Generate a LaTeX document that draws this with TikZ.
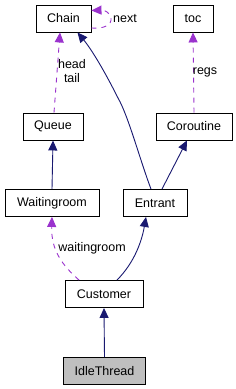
\documentclass[tikz,border=0pt]{standalone}
\usepackage{fontspec}
\setmainfont{Liberation Sans}
\usetikzlibrary{arrows.meta}
\definecolor{navy}{HTML}{191970}
\definecolor{orchid}{HTML}{9A32CD}
\begin{document}
\begin{tikzpicture}[x=1pt,y=-1pt,
  cls/.style={draw=black,line width=0.9pt,minimum height=27pt,inner sep=0pt,font=\fontsize{12.5}{14}\selectfont},
  inh/.style={draw=navy,line width=0.9pt,-{Triangle[length=10pt,width=9pt]}},
  use/.style={draw=orchid,line width=0.9pt,dash pattern=on 5pt off 5pt,-{Triangle[length=10pt,width=9pt]}},
  lbl/.style={font=\fontsize{12.5}{14}\selectfont,inner sep=0pt,align=center}]
\useasboundingbox (0,0) rectangle (236,389);
\node[cls,minimum width=55pt] (chain) at (63.5,18.5) {Chain};
\node[cls,minimum width=40pt] (toc) at (193,18.5) {toc};
\node[cls,minimum width=60pt] (queue) at (53,126.5) {Queue};
\node[cls,minimum width=76pt] (coroutine) at (194,126.5) {Coroutine};
\node[cls,minimum width=94pt] (waitingroom) at (52,203) {Waitingroom};
\node[cls,minimum width=64pt] (entrant) at (155,203) {Entrant};
\node[cls,minimum width=78pt] (customer) at (104,294) {Customer};
\node[cls,minimum width=82pt,fill={rgb,255:red,191;green,191;blue,191}] (idle) at (104.5,371) {IdleThread};
% edges
\draw[use] ([xshift=1pt]queue.north) -- ([xshift=-3.5pt]chain.south);
\node[lbl] (headtail) at (72,71) {head\\tail};
\draw[use] ([yshift=-9.5pt]chain.east) .. controls (104,29) and (112,25) .. (111,18) .. controls (110,12) and (104,10) .. ([yshift=8pt]chain.east);
\node[lbl] (nextlbl) at (125,19) {next};
\draw[use] (coroutine.north) -- (toc.south);
\node[lbl] (regs) at (205,72) {regs};
\draw[inh] (waitingroom.north) -- (queue.south);
\draw[inh] ([xshift=-4pt]entrant.north) .. controls (140,160) and (128,115) .. (118,98) .. controls (105,72) and (92,50) .. ([xshift=14pt]chain.south);
\draw[inh] ([xshift=7pt]entrant.north) -- ([xshift=-7pt]coroutine.south);
\draw[use] ([xshift=-25pt]customer.north) .. controls (62,265) and (51,250) .. (waitingroom.south);
\node[lbl] (wrlbl) at (92,248) {waitingroom};
\draw[inh] ([xshift=13pt]customer.north) .. controls (135,262) and (142,240) .. ([xshift=-9pt]entrant.south);
\draw[inh] (idle.north) -- (customer.south);
\end{tikzpicture}
\end{document}
